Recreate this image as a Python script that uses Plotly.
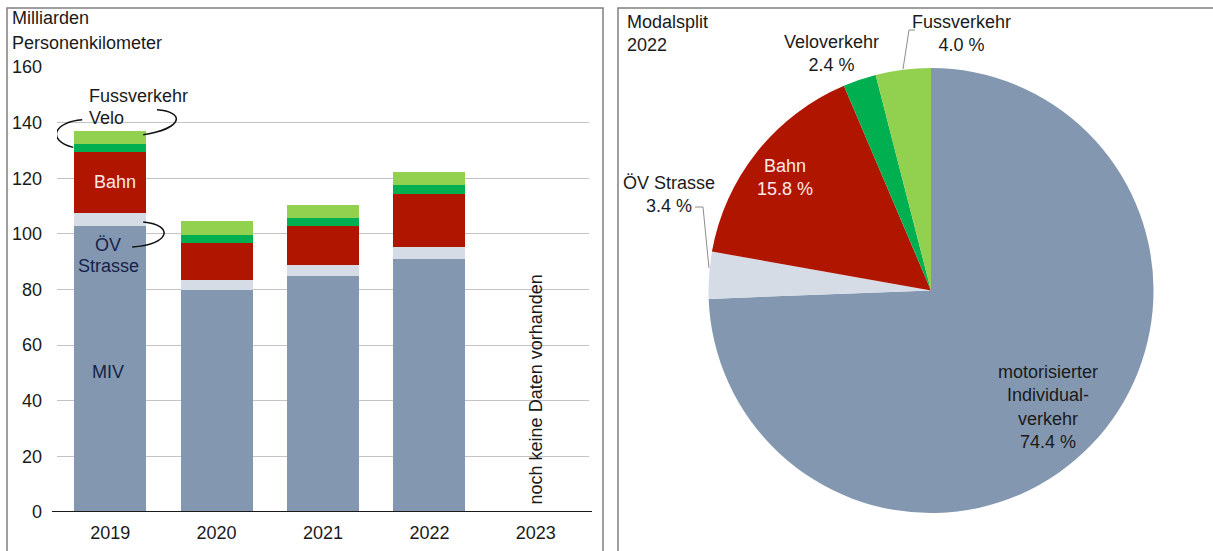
import plotly.graph_objects as go

W, H = 1213, 551

# ---------------- data ----------------
years = ["2019", "2020", "2021", "2022", "2023"]
miv = [103.0, 80.0, 85.0, 91.0, None]
oev_strasse = [4.5, 3.5, 3.9, 4.2, None]
bahn = [22.0, 13.3, 14.1, 19.3, None]
velo = [2.9, 2.8, 2.8, 2.9, None]
fuss = [4.6, 5.1, 4.7, 4.9, None]

y_ticks = [0, 20, 40, 60, 80, 100, 120, 140, 160]

pie_labels = ["motorisierter<br>Individual-<br>verkehr", "ÖV Strasse", "Bahn", "Veloverkehr", "Fussverkehr"]
pie_values = [74.4, 3.4, 15.8, 2.4, 4.0]

# ---------------- styles ----------------
C_MIV = "#8497B0"
C_OEV = "#D6DCE5"
C_BAHN = "#B01500"
C_VELO = "#00B050"
C_FUSS = "#92D050"
TXT = "#1A1A1A"
NAVY = "#14234A"
FONT = "Liberation Sans, Arial, sans-serif"
FS = 18


def X(px):
    return px / W


def Y(py):
    return 1 - py / H


fig = go.Figure()

series = [
    ("MIV", miv, C_MIV),
    ("ÖV Strasse", oev_strasse, C_OEV),
    ("Bahn", bahn, C_BAHN),
    ("Velo", velo, C_VELO),
    ("Fussverkehr", fuss, C_FUSS),
]
for name, vals, col in series:
    fig.add_trace(go.Bar(x=years, y=vals, name=name, marker=dict(color=col, line=dict(width=0)),
                         hoverinfo="skip", xaxis="x", yaxis="y"))

fig.add_trace(go.Pie(
    labels=pie_labels, values=pie_values, sort=False, direction="clockwise", rotation=0,
    marker=dict(colors=[C_MIV, C_OEV, C_BAHN, C_VELO, C_FUSS], line=dict(width=0)),
    textinfo="none", hoverinfo="skip", showlegend=False,
    domain=dict(x=[X(931 - 223), X(931 + 223)], y=[Y(513), Y(68)]),
))

fig.update_layout(
    width=W, height=H, autosize=False,
    margin=dict(l=0, r=0, t=0, b=0),
    paper_bgcolor="white", plot_bgcolor="white",
    barmode="stack", bargap=0.325, showlegend=False,
    font=dict(family=FONT, size=FS, color=TXT),
    xaxis=dict(domain=[X(57), X(589)], type="category", categoryorder="array", categoryarray=years,
               range=[-0.5, 4.5], showgrid=False, showline=False, zeroline=False,
               ticks="", ticklabelstandoff=8, tickfont=dict(size=FS, color=TXT), automargin=False,
               fixedrange=True),
    yaxis=dict(domain=[Y(512), Y(67)], range=[0, 160], tickvals=y_ticks, showgrid=True,
               gridcolor="#C4C4C4", gridwidth=1, zeroline=False, showline=False, ticks="",
               ticklabelstandoff=14, tickfont=dict(size=FS, color=TXT), automargin=False,
               fixedrange=True),
)

# ---------------- panel frames & baseline ----------------
fig.add_shape(type="rect", xref="paper", yref="paper", x0=X(7), x1=X(603), y0=-0.05, y1=Y(8),
              line=dict(color="#808080", width=1.5), layer="below")
fig.add_shape(type="rect", xref="paper", yref="paper", x0=X(618), x1=1.05, y0=-0.05, y1=Y(8),
              line=dict(color="#808080", width=1.5), layer="below")
fig.add_shape(type="line", xref="paper", yref="y", x0=X(52), x1=X(592), y0=0, y1=0,
              line=dict(color=TXT, width=2), layer="above")

ann = []
# left title
ann.append(dict(text="Milliarden", x=X(10), y=Y(18), xref="paper", yref="paper",
                xanchor="left", yanchor="middle", showarrow=False, font=dict(size=FS, color=TXT)))
ann.append(dict(text="Personenkilometer", x=X(10), y=Y(43), xref="paper", yref="paper",
                xanchor="left", yanchor="middle", showarrow=False, font=dict(size=FS, color=TXT)))

# in-bar labels for 2019 (positions from stacked values); x = category index
i19 = years.index("2019")
i23 = years.index("2023")
b0_miv = miv[i19]
b0_oev = b0_miv + oev_strasse[i19]
b0_bahn = b0_oev + bahn[i19]
b0_velo = b0_bahn + velo[i19]
b0_fuss = b0_velo + fuss[i19]

ann.append(dict(text="Bahn", x=i19, y=(b0_oev + b0_bahn) / 2, xshift=5, showarrow=False,
                font=dict(size=FS, color="#FDE9E9")))
ann.append(dict(text="ÖV", x=i19, y=96.0, xshift=-2, showarrow=False,
                font=dict(size=FS, color=NAVY)))
ann.append(dict(text="Strasse", x=i19, y=88.4, xshift=-2, showarrow=False,
                font=dict(size=FS, color=NAVY)))
ann.append(dict(text="MIV", x=i19, y=50.5, xshift=-2, showarrow=False,
                font=dict(size=FS, color=NAVY)))
ann.append(dict(text="Fussverkehr", x=i19, y=b0_fuss + 12.6, xshift=28, showarrow=False,
                font=dict(size=FS, color=TXT)))
ann.append(dict(text="Velo", x=i19, y=b0_fuss + 4.8, xshift=-4, showarrow=False,
                font=dict(size=FS, color=TXT)))
ann.append(dict(text="noch keine Daten vorhanden", x=i23, y=44, textangle=-90, showarrow=False,
                font=dict(size=FS, color=TXT)))

# connector curves (category index units on x, data values on y)
curve = dict(color="#111111", width=1.5)
fig.add_shape(type="path", xref="x", yref="y", line=curve,
              path=f"M -0.263 {b0_fuss + 4.0} C -0.52 {b0_fuss + 3.3} -0.61 {b0_bahn + 4.3} -0.347 {b0_bahn + 1.6}")
fig.add_shape(type="path", xref="x", yref="y", line=curve,
              path=f"M 0.31 {b0_velo + 3.2} C 0.70 {b0_velo + 5.7} 0.70 {b0_fuss + 6.9} 0.44 {b0_fuss + 7.6}")
fig.add_shape(type="path", xref="x", yref="y", line=curve,
              path=f"M 0.31 {b0_miv + 1.3} C 0.61 {b0_miv + 0.2} 0.56 {b0_miv - 7.0} 0.207 {b0_miv - 7.7}")

# right panel texts
ann.append(dict(text="Modalsplit<br>2022", x=X(625), y=Y(10), xref="paper", yref="paper",
                xanchor="left", yanchor="top", align="left", showarrow=False,
                font=dict(size=FS, color=TXT)))


def pct(v):
    return f"{v:.1f} %"


pie_pos = [  # (center x px, center y px of block, color)
    (1048, 407, TXT),
    (669, 194, TXT),
    (785, 177, "#FDE9E9"),
    (831, 54, TXT),
    (961, 34, TXT),
]
for lab, val, (cx, cy, col) in zip(pie_labels, pie_values, pie_pos):
    ann.append(dict(text=f"{lab}<br>{pct(val)}", x=X(cx), y=Y(cy), xref="paper", yref="paper",
                    xanchor="center", yanchor="middle", align="center", showarrow=False,
                    font=dict(size=FS, color=col)))

# pie leader lines
lead = dict(color="#8C8C8C", width=1)
fig.add_shape(type="path", xref="paper", yref="paper", line=lead,
              path=f"M {X(915)} {Y(30)} L {X(909)} {Y(30)} L {X(903)} {Y(69)}")
fig.add_shape(type="path", xref="paper", yref="paper", line=lead,
              path=f"M {X(695)} {Y(207)} L {X(703)} {Y(207)} L {X(709)} {Y(268)}")

fig.update_layout(annotations=ann)
fig.write_html("out.html", config={"displayModeBar": False},
               post_script="document.body.style.margin='0';document.body.style.overflow='hidden';")
